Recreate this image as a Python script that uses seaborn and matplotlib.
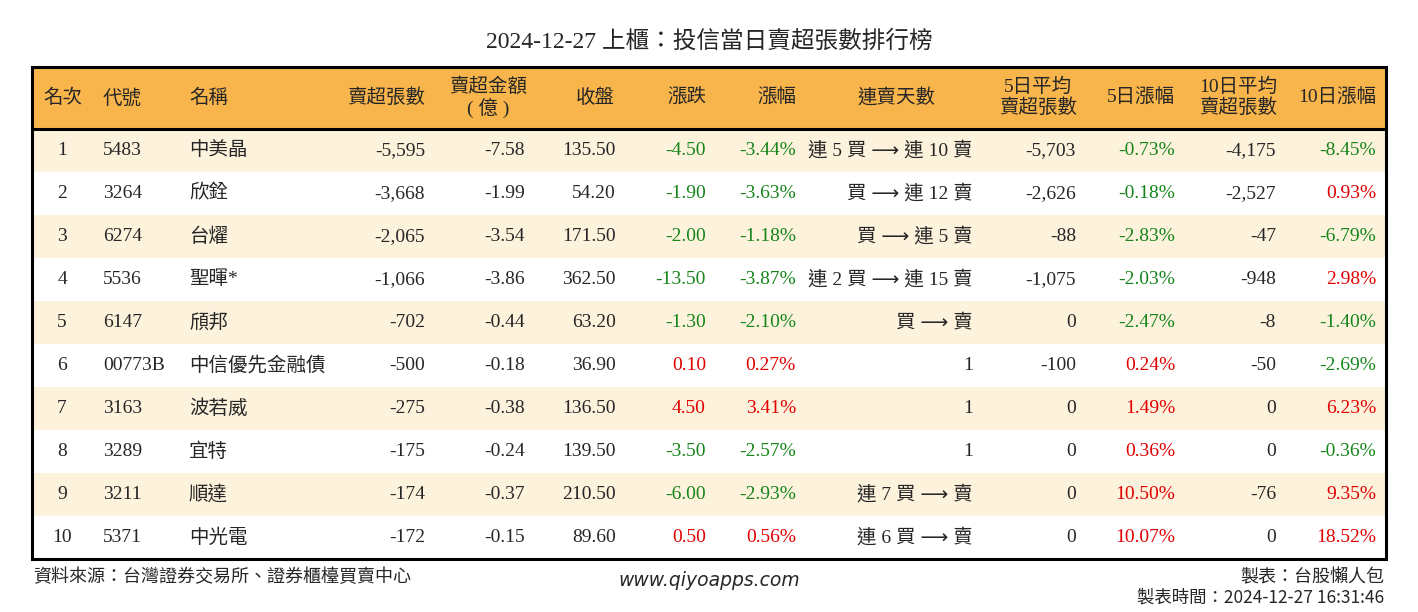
import numpy as np
import pandas as pd
import matplotlib.pyplot as plt
import seaborn as sns
from matplotlib.colors import ListedColormap
from matplotlib.patches import Rectangle

ranks = list(range(1, 11))
codes = ['5483', '3264', '6274', '5536', '6147', '00773B', '3163', '3289', '3211', '5371']
names = ['中美晶', '欣銓', '台燿', '聖暉*', '頎邦', '中信優先金融債', '波若威', '宜特', '順達', '中光電']
net_sell = [-5595, -3668, -2065, -1066, -702, -500, -275, -175, -174, -172]
amount = [-7.58, -1.99, -3.54, -3.86, -0.44, -0.18, -0.38, -0.24, -0.37, -0.15]
close = [135.50, 54.20, 171.50, 362.50, 63.20, 36.90, 136.50, 139.50, 210.50, 89.60]
change = [-4.50, -1.90, -2.00, -13.50, -1.30, 0.10, 4.50, -3.50, -6.00, 0.50]
pct = [-3.44, -3.63, -1.18, -3.87, -2.10, 0.27, 3.41, -2.57, -2.93, 0.56]
streak = ['連 5 買 ⟶ 連 10 賣', '買 ⟶ 連 12 賣', '買 ⟶ 連 5 賣', '連 2 買 ⟶ 連 15 賣', '買 ⟶ 賣',
          '1', '1', '1', '連 7 買 ⟶ 賣', '連 6 買 ⟶ 賣']
avg5 = [-5703, -2626, -88, -1075, 0, -100, 0, 0, 0, 0]
pct5 = [-0.73, -0.18, -2.83, -2.03, -2.47, 0.24, 1.49, 0.36, 10.50, 10.07]
avg10 = [-4175, -2527, -47, -948, -8, -50, 0, 0, -76, 0]
pct10 = [-8.45, 0.93, -6.79, 2.98, -1.40, -2.69, 6.23, -0.36, 9.35, 18.52]

df = pd.DataFrame({'rank': ranks, 'code': codes, 'name': names, 'net': net_sell, 'amt': amount,
                   'close': close, 'chg': change, 'pct': pct, 'streak': streak,
                   'avg5': avg5, 'pct5': pct5, 'avg10': avg10, 'pct10': pct10})

sns.set_style('white')
plt.rcParams['font.family'] = ['Liberation Serif', 'Noto Sans CJK TC', 'DejaVu Sans']
SANS = ['Noto Sans CJK TC', 'DejaVu Sans']

W, H = 1418, 612
L, R, TOP = 32, 1386, 67
HEAD_H, ROW_H = 62, 43
ORANGE, CREAM = '#F8B54B', '#FDF2DC'
GREEN, RED = '#15851A', '#E00000'
FS = 14

fig = plt.figure(figsize=(W / 100, H / 100), dpi=100)

# striped body rows
body_top = TOP + HEAD_H
axb = fig.add_axes([L / W, 1 - (body_top + ROW_H * len(df)) / H, (R - L) / W, ROW_H * len(df) / H])
stripes = (df.index.values % 2 == 0).astype(int).reshape(-1, 1)
sns.heatmap(stripes, ax=axb, cmap=ListedColormap(['white', CREAM]), vmin=0, vmax=1,
            cbar=False, xticklabels=False, yticklabels=False)
axb.axis('off')

# overlay in pixel coordinates
ax = fig.add_axes([0, 0, 1, 1])
ax.set_xlim(0, W)
ax.set_ylim(H, 0)
ax.axis('off')

ax.add_patch(Rectangle((L, TOP), R - L, HEAD_H, fc=ORANGE, ec='none'))
ax.add_patch(Rectangle((L, TOP), R - L, HEAD_H + ROW_H * len(df), fill=False, ec='black', lw=2.2))
ax.plot([L, R], [body_top, body_top], color='black', lw=2.2)

ax.text(W / 2, 42, '2024-12-27 上櫃：投信當日賣超張數排行榜', ha='center', va='center', fontsize=17)

# header
hy = TOP + HEAD_H / 2
hy1, hy2 = hy - 11, hy + 10
ax.text(63, hy, '名次', ha='center', va='center', fontsize=FS)
ax.text(103, hy, '代號', ha='left', va='center', fontsize=FS)
ax.text(189, hy, '名稱', ha='left', va='center', fontsize=FS)
ax.text(425, hy, '賣超張數', ha='right', va='center', fontsize=FS)
ax.text(488, hy1, '賣超金額', ha='center', va='center', fontsize=FS)
ax.text(488, hy2, '( 億 )', ha='center', va='center', fontsize=FS)
ax.text(615, hy, '收盤', ha='right', va='center', fontsize=FS)
ax.text(706, hy, '漲跌', ha='right', va='center', fontsize=FS)
ax.text(796, hy, '漲幅', ha='right', va='center', fontsize=FS)
ax.text(896, hy, '連賣天數', ha='center', va='center', fontsize=FS)
ax.text(1038, hy1, '5日平均', ha='center', va='center', fontsize=FS)
ax.text(1038, hy2, '賣超張數', ha='center', va='center', fontsize=FS)
ax.text(1175, hy, '5日漲幅', ha='right', va='center', fontsize=FS)
ax.text(1238, hy1, '10日平均', ha='center', va='center', fontsize=FS)
ax.text(1238, hy2, '賣超張數', ha='center', va='center', fontsize=FS)
ax.text(1376, hy, '10日漲幅', ha='right', va='center', fontsize=FS)


def sign_color(v):
    return RED if v > 0 else GREEN if v < 0 else 'black'


for i, r in df.iterrows():
    y = body_top + ROW_H * (i + 0.5)
    kw = dict(va='center', fontsize=FS)
    ax.text(62, y, str(r['rank']), ha='center', **kw)
    ax.text(103, y, r['code'], ha='left', **kw)
    ax.text(189, y, r['name'], ha='left', **kw)
    ax.text(425, y, f"{r['net']:,}", ha='right', **kw)
    ax.text(525, y, f"{r['amt']:.2f}", ha='right', **kw)
    ax.text(616, y, f"{r['close']:.2f}", ha='right', **kw)
    ax.text(706, y, f"{r['chg']:.2f}", ha='right', color=sign_color(r['chg']), **kw)
    ax.text(796, y, f"{r['pct']:.2f}%", ha='right', color=sign_color(r['pct']), **kw)
    ax.text(973, y, r['streak'], ha='right', **kw)
    ax.text(1076, y, f"{r['avg5']:,}", ha='right', **kw)
    ax.text(1175, y, f"{r['pct5']:.2f}%", ha='right', color=sign_color(r['pct5']), **kw)
    ax.text(1276, y, f"{r['avg10']:,}", ha='right', **kw)
    ax.text(1376, y, f"{r['pct10']:.2f}%", ha='right', color=sign_color(r['pct10']), **kw)

# footer
ax.text(33, 577, '資料來源：台灣證券交易所、證券櫃檯買賣中心', ha='left', va='center', fontsize=13)
ax.text(W / 2, 580, 'www.qiyoapps.com', ha='center', va='center', fontsize=13.5,
        style='italic', family='DejaVu Sans')
ax.text(1384, 577, '製表：台股懶人包', ha='right', va='center', fontsize=13, family=SANS)
ax.text(1384, 598, '製表時間：2024-12-27 16:31:46', ha='right', va='center', fontsize=12.5, family=SANS)

fig.savefig('out.png', dpi=100, facecolor='white')
